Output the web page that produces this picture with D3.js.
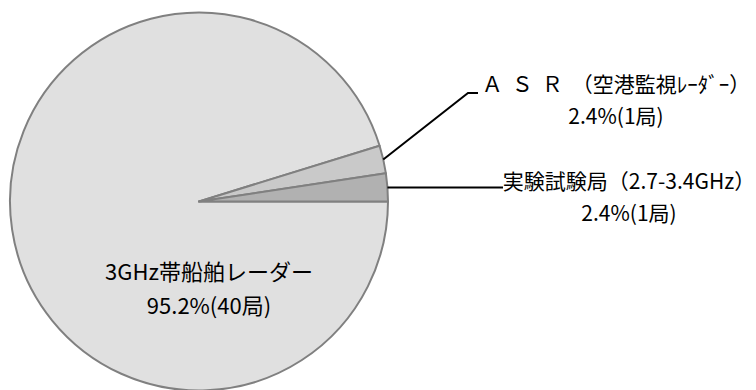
<!DOCTYPE html>
<html>
<head>
<meta charset="utf-8">
<script src="https://cdn.jsdelivr.net/npm/d3@7"></script>
<style>
  html, body { margin: 0; padding: 0; background: #fff; }
  svg text { font-family: "Noto Sans CJK JP", "Noto Sans", sans-serif; fill: #000; }
</style>
</head>
<body>
<div id="chart"></div>
<script>
// 3GHz帯 無線局数の内訳
const categories = ['3GHz帯船舶レーダー', 'ＡＳＲ（空港監視ﾚｰﾀﾞｰ）', '実験試験局（2.7-3.4GHz）'];
const stations = [40, 1, 1];

const width = 756;
const height = 390;
const cx = 199, cy = 201.5, radius = 189;
const fills = ['#e0e0e0', '#c9c9c9', '#b1b1b1'];

const total = d3.sum(stations);
const pct = d3.format('.1f');
const data = categories.map((c, i) => ({
  name: c,
  value: stations[i],
  label: pct(stations[i] / total * 100) + '%(' + stations[i] + '局)'
}));

const svg = d3.select('#chart')
  .append('svg')
  .attr('width', width)
  .attr('height', height);

// start at 3 o'clock, big slice runs clockwise round the bottom
const pie = d3.pie()
  .value(d => d.value)
  .sort(null)
  .startAngle(Math.PI / 2)
  .endAngle(Math.PI / 2 + 2 * Math.PI);

const arc = d3.arc().innerRadius(0).outerRadius(radius);
const arcs = pie(data);

const g = svg.append('g').attr('transform', `translate(${cx},${cy})`);

g.selectAll('path')
  .data(arcs)
  .enter()
  .append('path')
  .attr('d', arc)
  .attr('fill', (d, i) => fills[i])
  .attr('stroke', '#808080')
  .attr('stroke-width', 2)
  .attr('stroke-linejoin', 'round');

// point on the rim at the middle of a slice
function rim(d) {
  const a = (d.startAngle + d.endAngle) / 2;
  return [cx + radius * Math.sin(a), cy - radius * Math.cos(a)];
}

// leader lines (elbow / end points are layout, start comes from the arc)
const leaders = [
  { d: arcs[1], pts: [[468, 93], [478, 93]] },
  { d: arcs[2], pts: [[503, null]] }
];
leaders.forEach(l => {
  const s = rim(l.d);
  const pts = [s].concat(l.pts.map(p => [p[0], p[1] == null ? s[1] : p[1]]));
  svg.append('path')
    .attr('d', d3.line()(pts))
    .attr('fill', 'none')
    .attr('stroke', '#000')
    .attr('stroke-width', 2);
});

// labels
const labelPos = [
  { x: 209, y: 280, size: 22 },
  { x: 616, y: 92, size: 21 },
  { x: 629, y: 189, size: 21 }
];
const lineGap = [34, 32, 32];

data.forEach((d, i) => {
  const t = svg.append('text')
    .attr('text-anchor', 'middle')
    .attr('font-size', labelPos[i].size);
  const first = t.append('tspan')
    .attr('x', labelPos[i].x)
    .attr('y', labelPos[i].y);
  // full-width latin run (ＡＳＲ) is set wide, as in the original
  const m = d.name.match(/^([Ａ-Ｚ]+)(.*)$/);
  if (m) {
    first.append('tspan').attr('letter-spacing', 9).text(m[1]);
    first.append('tspan').attr('letter-spacing', 0).text(m[2]);
  } else {
    first.text(d.name);
  }
  t.append('tspan')
    .attr('x', labelPos[i].x)
    .attr('y', labelPos[i].y + lineGap[i])
    .text(d.label);
});
</script>
</body>
</html>
